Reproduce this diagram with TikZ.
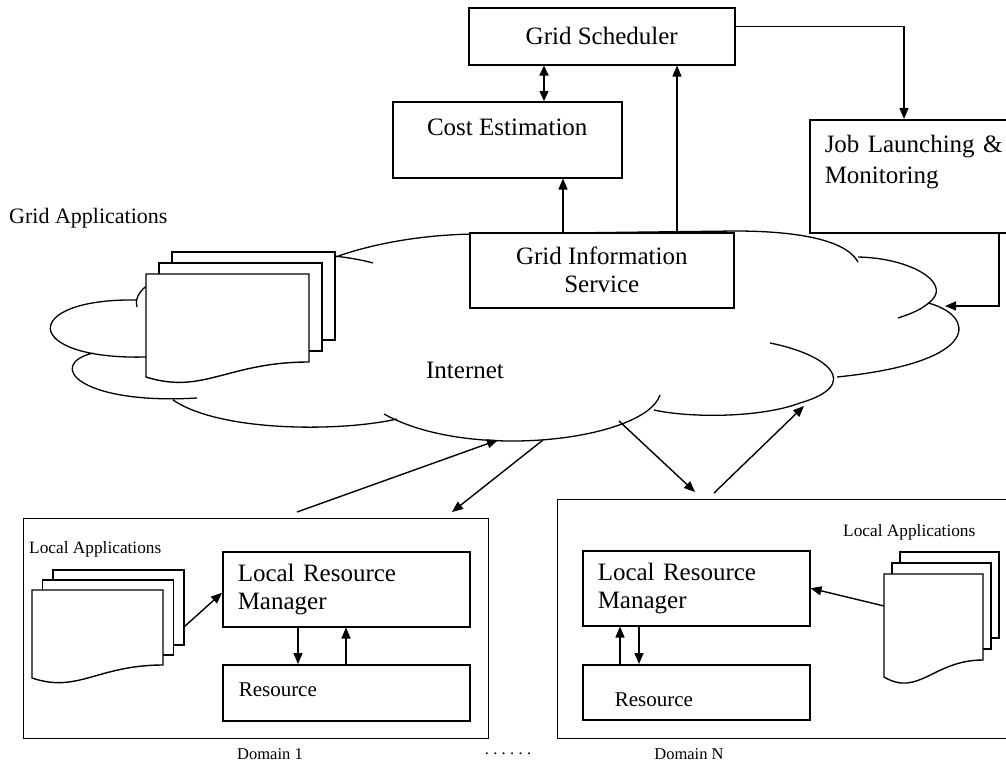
\documentclass[tikz,border=0pt]{standalone}
\usepackage{fontspec}
\setmainfont{Liberation Serif}
\usetikzlibrary{arrows.meta,calc}
\newcommand{\boxfont}{\fontsize{25}{28}\selectfont}
\newcommand{\jobfont}{\fontsize{25}{31}\selectfont}
\newcommand{\resfont}{\fontsize{21}{25}\selectfont}
\newcommand{\appfont}{\fontsize{22}{26}\selectfont}
\newcommand{\locfont}{\fontsize{17.3}{20}\selectfont}
\newcommand{\domfont}{\fontsize{16.5}{20}\selectfont}
% stack of three pages: front top-left, width, right height, left height, offset
\newcommand{\docstack}[7]{%
  \draw[page] (#1+2*#6,#2-2*#7) rectangle ++(#3,#4);
  \draw[page] (#1+#6,#2-#7) rectangle ++(#3,#4);
  \draw[page] (#1,#2) -- ++(#3,0) -- ++(0,#4) .. controls (#1+0.5*#3,#2+#4) and (#1+0.35*#3,#2+2.2*#5-1.2*#4) .. (#1,#2+#5) -- cycle;
}

\begin{document}
\begin{tikzpicture}[
  x=1pt, y=-1pt, font=\boxfont,
  box/.style={draw, line width=1.5pt, fill=white, inner sep=0pt},
  lrm/.style={box, text width=#1, inner xsep=15pt, minimum height=75pt, align=left},
  res/.style={box, font=\resfont, minimum height=56pt, align=left},
  dom/.style={draw, line width=1.4pt, inner sep=0pt},
  page/.style={draw, fill=white, line width=1.4pt},
  cloudline/.style={line width=1.3pt},
  arr/.style={-{Triangle[length=11pt,width=9pt]}, line width=1.4pt},
  darr/.style={arr, {Triangle[length=10pt,width=9pt]}-{Triangle[length=10pt,width=9pt]}},
  lab/.style={inner sep=0pt}]

\clip (0,0) rectangle (1006,763);

% the internet cloud, drawn as overlapping arcs
\draw[cloudline]
  (137,307) .. controls (125,265) and (290,240) .. (373,263)
  (330,259) .. controls (375,242) and (430,234) .. (480,234) -- (735,231) .. controls (790,231) and (845,238) .. (858,262)
  (858,257) .. controls (910,258) and (950,282) .. (932,300) .. controls (922,310) and (910,314) .. (898,318)
  (928,303) .. controls (975,315) and (985,362) .. (837,377)
  (770,343) .. controls (830,355) and (862,385) .. (800,403) .. controls (760,418) and (690,418) .. (654,410)
  (660,395) .. controls (645,440) and (470,462) .. (384,414)
  (397,419) .. controls (340,432) and (220,432) .. (173,400)
  (197,398) .. controls (80,405) and (45,365) .. (93,353)
  (146,357) .. controls (20,360) and (20,298) .. (137,300);
\node[lab, anchor=base] (inet) at (465,378) {Internet};

\node[lab, font=\appfont, anchor=base west] (gapp) at (9,223) {Grid Applications};
\docstack{146}{274}{163}{88}{103}{13}{11}

\node[box, anchor=north west, minimum width=266pt, minimum height=57pt] (sched) at (468,7) {Grid Scheduler};
\node[box, anchor=north west, minimum width=229pt, minimum height=76pt, text depth=25pt] (cost) at (392,101) {Cost Estimation};
\node[box, anchor=north west, minimum width=264pt, minimum height=75pt, align=center] (gis) at (469,232) {Grid Information\\Service};
\node[box, anchor=north west, font=\jobfont, text width=200pt, inner xsep=15pt, minimum height=113pt, text depth=64pt, align=left] (job) at (809,119) {Job Launching \&\\Monitoring};

\coordinate (g1) at ([xshift=94pt]gis.north west);
\coordinate (g2) at ([xshift=208pt]gis.north west);
\coordinate (s1) at ([xshift=76pt]sched.south west);
\coordinate (jc) at (945,306);
\draw[darr] (s1) -- (s1 |- cost.north);
\draw[arr] (g1) -- (g1 |- cost.south);
\draw[arr] (g2) -- (g2 |- sched.south);
\draw[arr] ([yshift=9.5pt]sched.east) -| ([xshift=95pt]job.north west);
\draw[arr] ([xshift=190pt]job.south west) |- (jc);

% domain 1
\node[dom, anchor=north west, minimum width=465pt, minimum height=220pt] (dom1) at (23,518) {};
\node[lab, font=\locfont, anchor=base west] (lapp1) at (29,553) {Local Applications};
\docstack{32}{590}{131}{75}{88}{10.5}{10}
\coordinate (app1) at (184,627);
\node[lrm=217pt, anchor=north west] (lrm1) at (222,551) {Local Resource\\Manager};
\node[res, text width=215pt, inner xsep=16pt, text depth=6pt, anchor=north west] (res1) at (222,664) {Resource};
\node[lab, font=\domfont, anchor=base] (dlab1) at (270,759) {Domain 1};
\draw[arr] (app1) -- ([yshift=-3.5pt]lrm1.west);
\draw[arr] ([xshift=76pt]lrm1.south west) -- ([xshift=76pt]res1.north west);
\draw[arr] ([xshift=124pt]res1.north west) -- ([xshift=124pt]lrm1.south west);

% domain N
\node[dom, anchor=north west, minimum width=480pt, minimum height=239pt] (domN) at (557,499) {};
\node[lab, font=\locfont, anchor=base west] (lappN) at (843,536) {Local Applications};
\docstack{884}{574}{99}{86}{103}{8}{11}
\coordinate (appN) at (884,606);
\node[lrm=197pt, anchor=north west] (lrmN) at (582,550) {Local Resource\\Manager};
\node[res, text width=163pt, inner xsep=32pt, minimum height=55pt, text height=28pt, anchor=north west] (resN) at (582,664) {Resource};
\node[lab, font=\domfont, anchor=base] (dlabN) at (689,759) {Domain N};
\draw[arr] (appN) -- (lrmN.east);
\draw[arr] ([xshift=38pt]resN.north west) -- ([xshift=38pt]lrmN.south west);
\draw[arr] ([xshift=57pt]lrmN.south west) -- ([xshift=57pt]resN.north west);

\node[lab, font=\domfont, anchor=base] (dots) at (508,754) {.\kern4.3pt.\kern4.3pt.\kern4.3pt.\kern4.3pt.\kern4.3pt.};

% links between the domains and the cloud
\coordinate (c1) at (498,440);
\coordinate (c2) at (543,440);
\coordinate (c3) at (619,421);
\coordinate (c4) at (804,406);
\draw[arr] ([xshift=274pt,yshift=6pt]dom1.north west) -- (c1);
\draw[arr] (c2) -- ([xshift=429pt,yshift=6pt]dom1.north west);
\draw[arr] (c3) -- ([xshift=138pt,yshift=7pt]domN.north west);
\draw[arr] ([xshift=157pt,yshift=6pt]domN.north west) -- (c4);
\end{tikzpicture}
\end{document}
